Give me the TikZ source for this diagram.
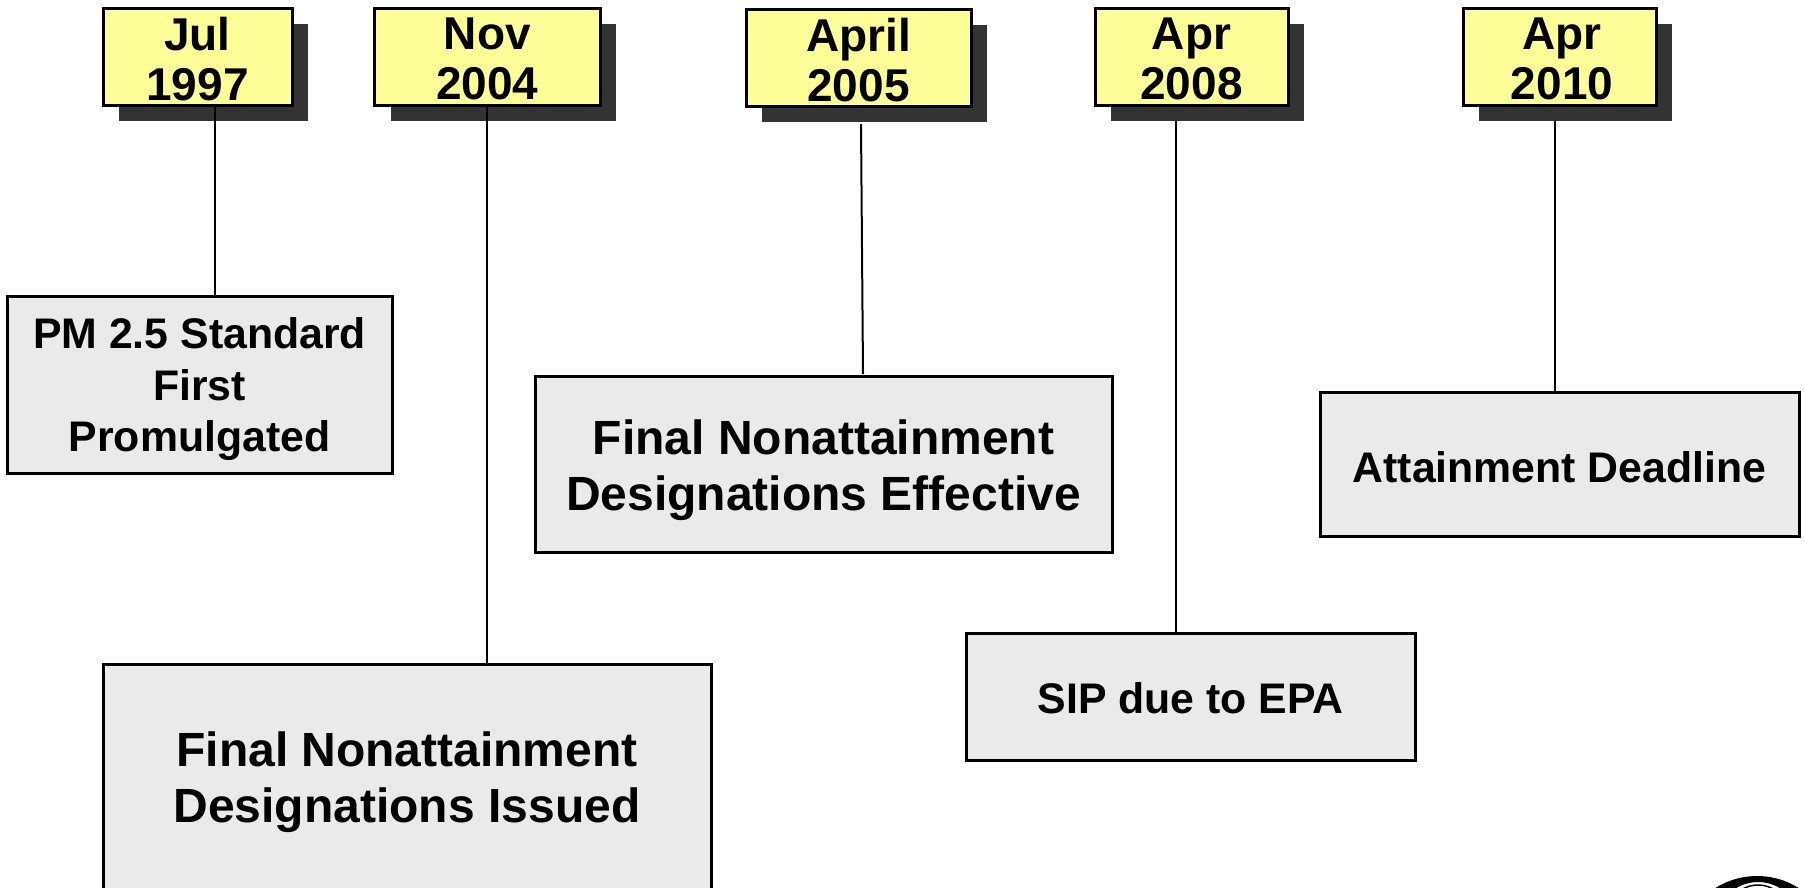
\documentclass[tikz,border=0pt]{standalone}
\usepackage{fontspec}
\setmainfont{Liberation Sans}
\definecolor{yellowfill}{RGB}{255,255,153}
\definecolor{shadowgray}{RGB}{51,51,51}
\definecolor{boxgray}{RGB}{234,234,234}
\tikzset{
  x=1pt,y=-1pt,
  datebox/.style={draw=black,line width=3pt,fill=yellowfill,inner sep=0pt},
  datetext/.style={align=center,inner sep=0pt,font=\bfseries\fontsize{46}{50.5}\selectfont},
  eventbox/.style={draw=black,line width=3pt,fill=boxgray,inner sep=0pt},
  small/.style={align=center,inner sep=0pt,font=\bfseries\fontsize{42.8}{51.5}\selectfont},
  big/.style={align=center,inner sep=0pt,font=\bfseries\fontsize{48}{56}\selectfont},
  conn/.style={draw=black,line width=2pt},
}
\newcommand{\dbox}[7]{% name, x0,y0,x1,y1,text x offset,text
  \fill[shadowgray] (#2+16,#3+16) rectangle (#4+16,#5+16);
  \node[datebox,minimum width=#4pt-#2pt,minimum height=#5pt-#3pt] (#1) at ({(#2+#4)/2},{(#3+#5)/2}) {};
  \node[datetext] (#1t) at ({(#2+#4)/2+#6},{(#3+#5)/2+2.5}) {#7};
}
\newcommand{\ebox}[8]{% name, style, x0,y0,x1,y1,text offset,text
  \node[eventbox,minimum width=#5pt-#3pt,minimum height=#6pt-#4pt] (#1) at ({(#3+#5)/2},{(#4+#6)/2}) {};
  \node[#2] (#1t) at ({(#3+#5)/2},{(#4+#6)/2+#7}) {#8};
}
\begin{document}
\begin{tikzpicture}
\useasboundingbox (0,0) rectangle (1804,887);
\begin{scope}
\clip (0,0) rectangle (1804,887);
\fill[white] (0,0) rectangle (1804,887);
\dbox{d97}{103}{8}{292}{105}{0}{Jul\\1997}
\dbox{d04}{374.5}{8}{600}{105}{0}{Nov\\2004}
\dbox{d05}{746}{9}{971}{106}{0}{April\\2005}
\dbox{d08}{1095}{8}{1288}{105}{0}{Apr\\2008}
\dbox{d10}{1463}{8}{1656}{105}{2.5}{Apr\\2010}
\ebox{e97}{small}{7}{296}{392}{473}{5}{PM 2.5 Standard\\First\\Promulgated}
\ebox{e04}{big}{103}{664}{711}{892}{4.5}{Final Nonattainment\\Designations Issued}
\ebox{e05}{big}{535}{376}{1112}{552}{6.5}{Final Nonattainment\\Designations Effective}
\ebox{e08}{small}{966.5}{633}{1415}{760}{1.5}{SIP due to EPA}
\ebox{e10}{small}{1320}{392}{1799}{536}{3}{Attainment Deadline}
\coordinate (s05) at (861,124);
\coordinate (t05) at (863,374);
\coordinate (s08) at (1175.5,121);
\coordinate (s10) at (1554.5,121);
\draw[conn] (215,0 |- d97.south) -- (215,0 |- e97.north);
\draw[conn] (487,0 |- d04.south) -- (487,0 |- e04.north);
\draw[conn] (s05) -- (t05);
\draw[conn] (s08) -- (s08 |- e08.north);
\draw[conn] (s10) -- (s10 |- e10.north);
\fill[black,even odd rule] (1757,954) circle[radius=78] (1758,924) circle[radius=42];
\draw[black,line width=1.5pt] (1758,916) circle[radius=31];
\end{scope}
\end{tikzpicture}
\end{document}
